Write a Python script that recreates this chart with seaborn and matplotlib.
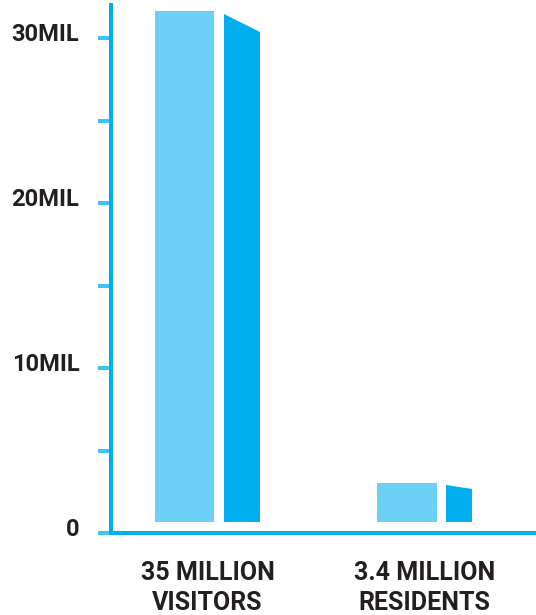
import matplotlib
matplotlib.use("Agg")
import matplotlib.pyplot as plt
import matplotlib.transforms as mtransforms
from matplotlib.patches import Polygon
import seaborn as sns
import pandas as pd

# ---- data (millions) ----
categories = ["35 MILLION\nVISITORS", "3.4 MILLION\nRESIDENTS"]
front_values = [31.64, 3.03]   # light bar top
side_start = [31.45, 2.91]     # dark slab top at its left edge
side_end = [30.36, 2.67]       # dark slab top at its right edge
bar_base = [0.67, 0.67]        # bars float slightly above the axis
yticks = [0, 5, 10, 15, 20, 25, 30]
ytick_labels = ["0", "", "10MIL", "", "20MIL", "", "30MIL"]

# ---- style ----
LIGHT = "#6BCFF6"
DARK = "#00AEEF"
AXIS = "#00AEEF"
TICK = "#3CC4F2"
TEXT = "#231F20"
# horizontal geometry of each group relative to category centre (axis units)
light_span = [(-0.242, 0.030), (-0.219, 0.058)]
dark_span = [(0.076, 0.242), (0.099, 0.219)]

sns.set_style("white")
plt.rcParams["font.family"] = ["Roboto", "DejaVu Sans"]
plt.rcParams["font.weight"] = "bold"

fig = plt.figure(figsize=(5.36, 6.15), dpi=100)
ax = fig.add_axes([111 / 536, 82 / 615, 1 - 111 / 536, (533 - 5) / 615])

df = pd.DataFrame({"category": categories, "value": front_values})
sns.barplot(data=df, x="category", y="value", color=LIGHT, saturation=1,
            width=0.3, ax=ax, linewidth=0)

for i, patch in enumerate(ax.patches):
    x0, x1 = light_span[i]
    patch.set_x(i + x0)
    patch.set_width(x1 - x0)
    patch.set_y(bar_base[i])
    patch.set_height(front_values[i] - bar_base[i])

for i in range(len(categories)):
    x0, x1 = dark_span[i]
    poly = Polygon([(i + x0, bar_base[i]), (i + x0, side_start[i]),
                    (i + x1, side_end[i]), (i + x1, bar_base[i])],
                   closed=True, facecolor=DARK, edgecolor="none")
    ax.add_patch(poly)

ax.set_xlim(-0.4447, 1.5138)
ax.set_ylim(0, 32.0)
ax.set_yticks(yticks)
ax.set_yticklabels(ytick_labels)
ax.set_xlabel("")
ax.set_ylabel("")

for side in ["top", "right"]:
    ax.spines[side].set_visible(False)
for side in ["left", "bottom"]:
    ax.spines[side].set_color(AXIS)
    ax.spines[side].set_linewidth(2.9)

ax.tick_params(axis="y", length=9.4, width=2.9, color=TICK, pad=13.5,
               labelsize=17, labelcolor=TEXT, left=True)
ax.tick_params(axis="x", length=0, pad=20, labelsize=18, labelcolor=TEXT)
for lab in ax.get_xticklabels():
    lab.set_linespacing(1.32)
    lab.set_fontweight("bold")

offset = mtransforms.ScaledTranslation(0, 6 / 100, fig.dpi_scale_trans)
for lab in ax.yaxis.get_majorticklabels():
    lab.set_transform(lab.get_transform() + offset)
    lab.set_fontweight("bold")

fig.savefig("out.png", dpi=100)
